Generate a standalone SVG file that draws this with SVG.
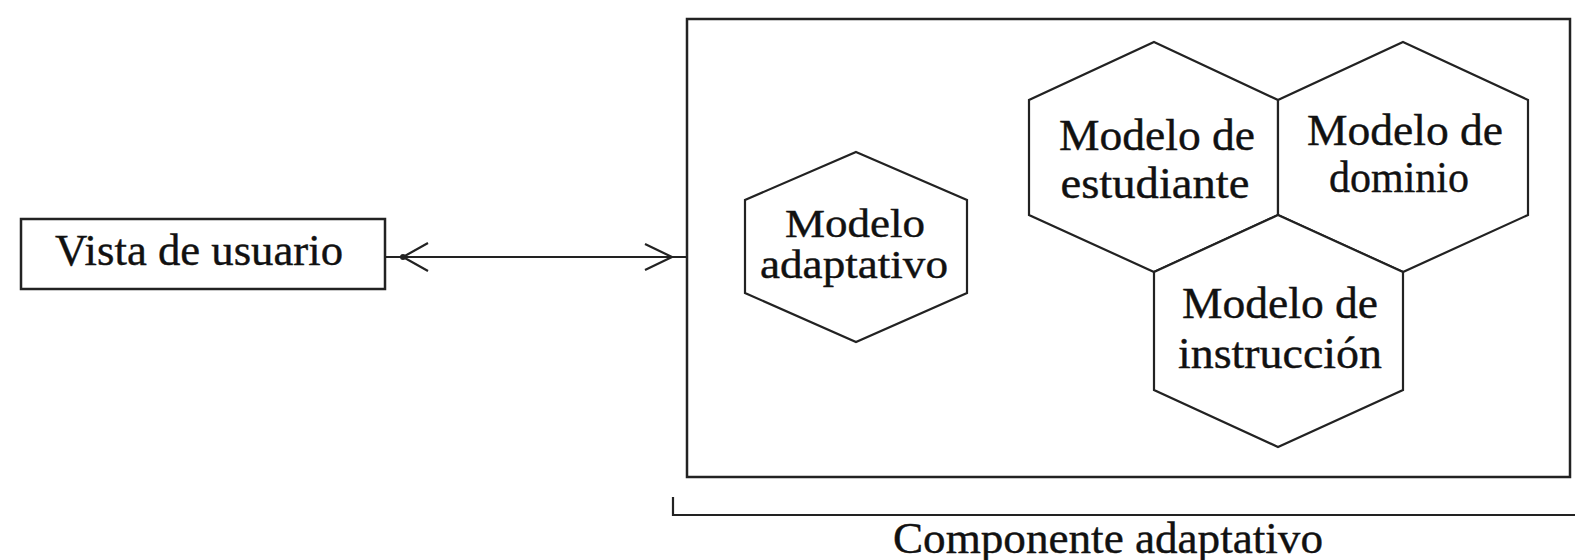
<svg xmlns="http://www.w3.org/2000/svg" width="1575" height="560" viewBox="0 0 1575 560">
<style>
.box{fill:#fff;stroke:#222;stroke-width:2.5}
.hex{fill:#fff;stroke:#222;stroke-width:2.2;stroke-linejoin:miter}
.t{font-family:"Liberation Serif","Times New Roman",serif;font-size:44px;fill:#111;stroke:#111;stroke-width:0.4;text-anchor:middle}
.s{font-size:40px}
.con{fill:none;stroke:#222;stroke-width:2.2}
</style>
<rect width="1575" height="560" fill="#fff"/>
<g id="vista-de-usuario">
<rect class="box" x="21" y="219" width="364" height="70"/>
<text class="t" x="199" y="265" textLength="288" lengthAdjust="spacingAndGlyphs">Vista de usuario</text>
</g>
<g id="componente-adaptativo">
<rect class="box" x="687" y="19" width="883" height="458"/>
<path class="con" d="M673,497 V515 H1575"/>
<text class="t" x="1108" y="553" textLength="430" lengthAdjust="spacingAndGlyphs">Componente adaptativo</text>
</g>
<g id="modelo-adaptativo">
<polygon class="hex" points="856,152 967,200 967,293 856,342 745,293 745,200"/>
<text class="t s" x="855" y="237" textLength="140" lengthAdjust="spacingAndGlyphs">Modelo</text>
<text class="t s" x="854" y="278" textLength="188" lengthAdjust="spacingAndGlyphs">adaptativo</text>
</g>
<g id="modelo-de-estudiante">
<polygon class="hex" points="1154,42 1278,100 1278,215 1154,272 1029,215 1029,100"/>
<text class="t" x="1157" y="150" textLength="196" lengthAdjust="spacingAndGlyphs">Modelo de</text>
<text class="t" x="1155" y="198" textLength="189" lengthAdjust="spacingAndGlyphs">estudiante</text>
</g>
<g id="modelo-de-dominio">
<polygon class="hex" points="1403,42 1528,100 1528,215 1403,272 1278,215 1278,100"/>
<text class="t" x="1405" y="145" textLength="196" lengthAdjust="spacingAndGlyphs">Modelo de</text>
<text class="t" x="1399" y="192" textLength="140" lengthAdjust="spacingAndGlyphs">dominio</text>
</g>
<g id="modelo-de-instruccion">
<polygon class="hex" points="1278,215 1403,272 1403,390 1278,447 1154,390 1154,272"/>
<text class="t" x="1280" y="318" textLength="196" lengthAdjust="spacingAndGlyphs">Modelo de</text>
<text class="t" x="1280" y="368" textLength="204" lengthAdjust="spacingAndGlyphs">instrucción</text>
</g>
<g id="connectors">
<line class="con" x1="385" y1="257" x2="687" y2="257"/>
<circle cx="403" cy="257" r="3" fill="#222"/>
<polyline class="con" points="428,243 403,257 428,271"/>
<polyline class="con" points="645,244 672,257 645,270"/>
</g>
</svg>
